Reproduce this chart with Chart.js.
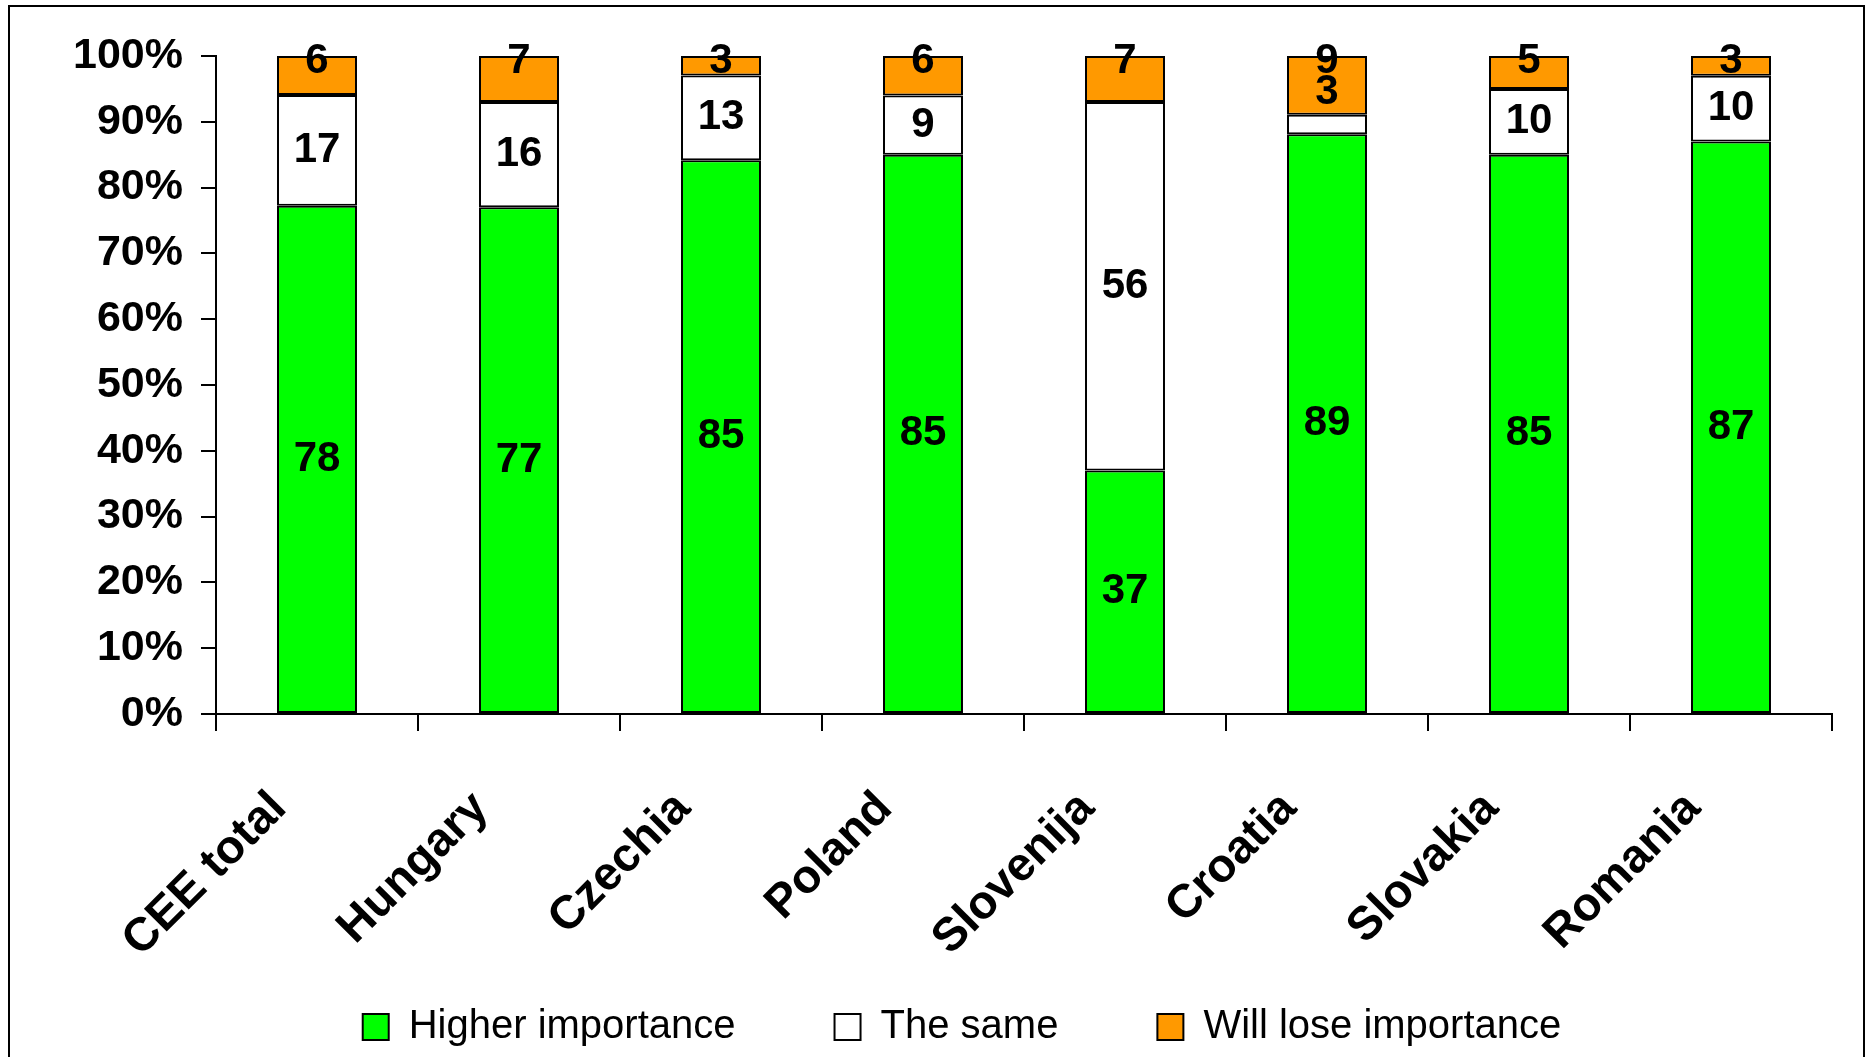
<!DOCTYPE html>
<html>
<head>
<meta charset="utf-8">
<title>Importance in CEE</title>
<script src="https://cdn.jsdelivr.net/npm/chart.js@4.4.0/dist/chart.umd.min.js"></script>
<style>
    html, body { margin: 0; padding: 0; background: #fff; overflow: hidden; }
    .wrap { position: relative; width: 1871px; height: 1057px; }
    .frame { position: absolute; left: 8px; top: 5px; width: 1853px; height: 1100px; border: 2px solid #000; }
    #importanceChart { position: absolute; left: 0; top: 0; }
</style>
</head>
<body>
<div class="wrap">
    <div class="frame"></div>
    <canvas id="importanceChart" width="1871" height="1057"></canvas>
</div>
<script>
const categories = ['CEE total', 'Hungary', 'Czechia', 'Poland', 'Slovenija', 'Croatia', 'Slovakia', 'Romania'];
const higherImportance = [78, 77, 85, 85, 37, 89, 85, 87];
const theSame = [17, 16, 13, 9, 56, 3, 10, 10];
const willLose = [6, 7, 3, 6, 7, 9, 5, 3];
const seriesNames = ['Higher importance', 'The same', 'Will lose importance'];
const seriesColors = ['#00FF00', '#FFFFFF', '#FF9900'];

const FONT = '"Liberation Sans", Arial, sans-serif';

// 100% stacked: every column is scaled to its own total
const totals = categories.map((_, i) => higherImportance[i] + theSame[i] + willLose[i]);
const toShare = arr => arr.map((v, i) => v / totals[i] * 100);

// prints the raw answer counts inside the segments
const barValueLabels = {
    id: 'barValueLabels',
    afterDatasetsDraw(chart) {
        const ctx = chart.ctx;
        const last = chart.data.datasets.length - 1;
        ctx.save();
        ctx.font = `bold 42px ${FONT}`;
        ctx.fillStyle = '#000';
        ctx.textAlign = 'center';
        ctx.textBaseline = 'middle';
        chart.data.datasets.forEach((ds, d) => {
            chart.getDatasetMeta(d).data.forEach((bar, i) => {
                let y = (bar.y + bar.base) / 2;
                if (d === last) y = bar.y + 5;              // top label sits on the bar top
                else if (bar.base - bar.y < 32) y -= 32;    // thin segment, lift the label
                ctx.fillText(ds.values[i], bar.x, y);
            });
        });
        ctx.restore();
    }
};

// axes are squeezed to leave room for the wide legend, so let their labels spill out
const looseLabelArea = {
    id: 'looseLabelArea',
    afterLayout(chart) {
        chart.scales.x.bottom = chart.height;
        chart.scales.y.left = 0;
    }
};

function makeDataset(idx, values) {
    return {
        label: seriesNames[idx],
        data: toShare(values),
        values: values,
        backgroundColor: seriesColors[idx],
        borderColor: '#000',
        borderWidth: 2,
        borderSkipped: false,
        barPercentage: 0.396,
        categoryPercentage: 1
    };
}

const ctx = document.getElementById('importanceChart').getContext('2d');
new Chart(ctx, {
    type: 'bar',
    data: {
        labels: categories,
        datasets: [
            makeDataset(0, higherImportance),
            makeDataset(1, theSame),
            makeDataset(2, willLose)
        ]
    },
    options: {
        responsive: false,
        animation: false,
        layout: { padding: { left: 92, right: 39, top: 56, bottom: 0 } },
        plugins: {
            legend: {
                position: 'bottom',
                labels: {
                    color: '#000',
                    font: { family: FONT, size: 40, lineHeight: 1 },
                    boxWidth: 26,
                    boxHeight: 26,
                    padding: 99
                }
            },
            tooltip: { enabled: false }
        },
        scales: {
            x: {
                stacked: true,
                grid: { offset: true, drawOnChartArea: false, color: '#000', lineWidth: 2, tickLength: 17 },
                border: { color: '#000', width: 2 },
                ticks: {
                    minRotation: 45,
                    maxRotation: 45,
                    padding: 50,
                    labelOffset: -38,
                    color: '#000',
                    font: { family: FONT, size: 47, weight: 'bold' }
                },
                afterFit: scale => { scale.height = 194; }
            },
            y: {
                stacked: true,
                min: 0,
                max: 100,
                grid: { drawOnChartArea: false, color: '#000', lineWidth: 2, tickLength: 15 },
                border: { color: '#000', width: 2 },
                ticks: {
                    stepSize: 10,
                    padding: 18,
                    color: '#000',
                    font: { family: FONT, size: 43, weight: 'bold' },
                    callback: v => v + '%'
                },
                afterFit: scale => { scale.width = 124; }
            }
        }
    },
    plugins: [barValueLabels, looseLabelArea]
});
</script>
</body>
</html>
